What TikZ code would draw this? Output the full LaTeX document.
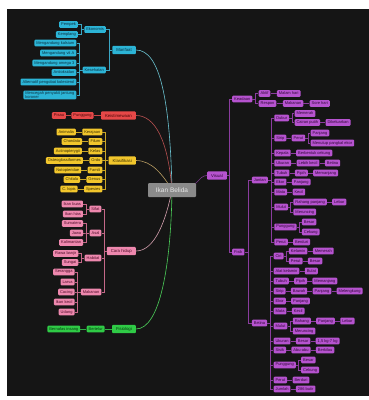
\documentclass[tikz,border=0pt]{standalone}
\usepackage{fontspec}
\setmainfont{Liberation Sans}
\usepackage{xcolor}
\usetikzlibrary{positioning}

\definecolor{bgdark}{HTML}{151515}
\definecolor{rootfill}{HTML}{8A8A8A}
\definecolor{roottext}{HTML}{E6E6E6}
\definecolor{cyanfill}{HTML}{2CB4D6}
\definecolor{cyantext}{HTML}{0A3344}
\definecolor{cyanlink}{HTML}{3BA6C4}
\definecolor{cyancurve}{HTML}{6CC4D2}
\definecolor{redfill}{HTML}{E64848}
\definecolor{redtext}{HTML}{4A0808}
\definecolor{redlink}{HTML}{C84646}
\definecolor{redcurve}{HTML}{B85050}
\definecolor{yellowfill}{HTML}{F2C62C}
\definecolor{yellowtext}{HTML}{3D3000}
\definecolor{yellowlink}{HTML}{C9A628}
\definecolor{yellowcurve}{HTML}{B89C62}
\definecolor{pinkfill}{HTML}{EE88AE}
\definecolor{pinktext}{HTML}{4E0C28}
\definecolor{pinklink}{HTML}{C46888}
\definecolor{pinkcurve}{HTML}{D4A0AE}
\definecolor{greenfill}{HTML}{2FCB46}
\definecolor{greentext}{HTML}{063A10}
\definecolor{greenlink}{HTML}{2FB044}
\definecolor{greencurve}{HTML}{4CD05A}
\definecolor{purplefill}{HTML}{B653CF}
\definecolor{purpletext}{HTML}{300838}
\definecolor{purplelink}{HTML}{8A3C9E}
\definecolor{purplecurve}{HTML}{7A3A8C}

\begin{document}
\begin{tikzpicture}[
    x=1pt, y=-1pt,
    leaf/.style={
        rectangle,
        rounded corners=1pt,
        inner xsep=2pt,
        inner ysep=0.6pt,
        minimum height=6.6pt,
        font=\fontsize{4}{4.6}\selectfont
    },
    mainnode/.style={
        leaf,
        inner xsep=4pt,
        minimum height=8.4pt,
        font=\fontsize{4.3}{5}\selectfont
    },
    rootnode/.style={
        rectangle,
        rounded corners=1pt,
        fill=rootfill,
        text=roottext,
        minimum width=48pt,
        minimum height=14pt,
        font=\fontsize{6.5}{7}\selectfont
    },
    cyanbox/.style={leaf, fill=cyanfill, text=cyantext},
    cyanmain/.style={mainnode, fill=cyanfill, text=cyantext},
    redbox/.style={leaf, fill=redfill, text=redtext},
    redmain/.style={mainnode, fill=redfill, text=redtext},
    yellowbox/.style={leaf, fill=yellowfill, text=yellowtext},
    yellowmain/.style={mainnode, fill=yellowfill, text=yellowtext},
    pinkbox/.style={leaf, fill=pinkfill, text=pinktext},
    pinkmain/.style={mainnode, fill=pinkfill, text=pinktext},
    greenbox/.style={leaf, fill=greenfill, text=greentext},
    greenmain/.style={mainnode, fill=greenfill, text=greentext},
    purplebox/.style={leaf, fill=purplefill, text=purpletext},
    purplemain/.style={mainnode, fill=purplefill, text=purpletext},
    cyanline/.style={line width=0.5pt, cyanlink},
    redline/.style={line width=0.5pt, redlink},
    yellowline/.style={line width=0.5pt, yellowlink},
    pinkline/.style={line width=0.5pt, pinklink},
    greenline/.style={line width=0.5pt, greenlink},
    purpleline/.style={line width=0.5pt, purplelink},
    curve/.style={line width=0.6pt}
]

\useasboundingbox (0,0) rectangle (369,400);
\fill[white] (0,0) rectangle (369,400);
\fill[bgdark] (7,9) rectangle (369,396);

% Main branches
\node[cyanmain, anchor=east] (manfaat) at (136,50) {Manfaat};
\node[redmain, anchor=east] (keistimewaan) at (136,115.5) {Keistimewaan};
\node[yellowmain, anchor=east] (klasifikasi) at (136,160.5) {Klasifikasi};
\node[pinkmain, anchor=east] (carahidup) at (136,251) {Cara hidup};
\node[greenmain, anchor=east] (fisiologi) at (136,329) {Fisiologi};
\node[purplemain, anchor=west] (visual) at (207,175.5) {Visual};

% Manfaat
\node[cyanbox, left=6pt of manfaat, yshift=20.5pt] (ekonomis) {Ekonomis};
\node[cyanbox, left=6pt of manfaat, yshift=-20pt] (kesehatan) {Kesehatan};
\node[cyanbox, left=6pt of ekonomis, yshift=5pt] (pempek) {Pempek};
\node[cyanbox, left=6pt of ekonomis, yshift=-5pt] (kemplang) {Kemplang};
\node[cyanbox, left=6pt of kesehatan, yshift=27pt] (kalsium) {Mengandung kalsium};
\node[cyanbox, left=6pt of kesehatan, yshift=17pt] (vitamina) {Mengandung vit A};
\node[cyanbox, left=6pt of kesehatan, yshift=7pt] (omega) {Mengandung omega 3};
\node[cyanbox, left=6pt of kesehatan, yshift=-2.5pt] (antioksidan) {Antioksidan};
\node[cyanbox, left=6pt of kesehatan, yshift=-12pt] (kolesterol) {Alternatif pengobat kolesterol};
\node[cyanbox, left=6pt of kesehatan, yshift=-25pt, align=left] (jantung) {Mencegah penyakit jantung\\koroner};

\foreach \c in {ekonomis,kesehatan}
    \draw[cyanline] (manfaat.west) -- ++(-3,0) |- (\c.east);
\foreach \c in {pempek,kemplang}
    \draw[cyanline] (ekonomis.west) -- ++(-3,0) |- (\c.east);
\foreach \c in {kalsium,vitamina,omega,antioksidan,kolesterol,jantung}
    \draw[cyanline] (kesehatan.west) -- ++(-3,0) |- (\c.east);

% Keistimewaan
\node[redbox, left=7pt of keistimewaan] (punggungr) {Punggung};
\node[redbox, left=5pt of punggungr] (pisau) {Pisau};
\draw[redline] (keistimewaan) -- (punggungr) -- (pisau);

% Klasifikasi
\node[yellowbox, left=6pt of klasifikasi, yshift=28.5pt] (kerajaan) {Kerajaan};
\node[yellowbox, left=6pt of klasifikasi, yshift=19pt] (filum) {Filum};
\node[yellowbox, left=6pt of klasifikasi, yshift=9.5pt] (kelas) {Kelas};
\node[yellowbox, left=6pt of klasifikasi] (ordo) {Ordo};
\node[yellowbox, left=6pt of klasifikasi, yshift=-9.5pt] (famili) {Famili};
\node[yellowbox, left=6pt of klasifikasi, yshift=-19pt] (genus) {Genus};
\node[yellowbox, left=6pt of klasifikasi, yshift=-28.5pt] (spesies) {Spesies};
\node[yellowbox, left=6pt of kerajaan] (animalia) {Animalia};
\node[yellowbox, left=6pt of filum] (chordata) {Chordata};
\node[yellowbox, left=6pt of kelas] (actino) {Actinopterygii};
\node[yellowbox, left=6pt of ordo] (osteo) {Osteoglossiformes};
\node[yellowbox, left=6pt of famili] (noto) {Notopteridae};
\node[yellowbox, left=6pt of genus] (chitala) {Chitala};
\node[yellowbox, left=6pt of spesies] (lopis) {C. lopis};

\foreach \c in {kerajaan,filum,kelas,ordo,famili,genus,spesies}
    \draw[yellowline] (klasifikasi.west) -- ++(-3,0) |- (\c.east);
\foreach \a/\b in {kerajaan/animalia,filum/chordata,kelas/actino,ordo/osteo,famili/noto,genus/chitala,spesies/lopis}
    \draw[yellowline] (\a) -- (\b);

% Cara hidup
\node[pinkbox, left=5pt of carahidup, yshift=42pt] (sifat) {Sifat};
\node[pinkbox, left=5pt of carahidup, yshift=18pt] (asal) {Asal};
\node[pinkbox, left=5pt of carahidup, yshift=-7pt] (habitat) {Habitat};
\node[pinkbox, left=5pt of carahidup, yshift=-41pt] (makanan) {Makanan};
\node[pinkbox, left=6pt of sifat, yshift=5pt] (buas) {Ikan buas};
\node[pinkbox, left=6pt of sifat, yshift=-5pt] (hias) {Ikan hias};
\node[pinkbox, left=6pt of asal, yshift=9.5pt] (sumatera) {Sumatera};
\node[pinkbox, left=6pt of asal] (jawa) {Jawa};
\node[pinkbox, left=6pt of asal, yshift=-9.5pt] (kalimantan) {Kalimantan};
\node[pinkbox, left=6pt of habitat, yshift=4.5pt] (rawa) {Rawa banjir};
\node[pinkbox, left=6pt of habitat, yshift=-4.5pt] (sungai) {Sungai};
\node[pinkbox, left=6pt of makanan, yshift=20pt] (serangga) {Serangga};
\node[pinkbox, left=6pt of makanan, yshift=10pt] (larva) {Larva};
\node[pinkbox, left=6pt of makanan] (cacing) {Cacing};
\node[pinkbox, left=6pt of makanan, yshift=-10pt] (ikankecil) {Ikan kecil};
\node[pinkbox, left=6pt of makanan, yshift=-20pt] (udang) {Udang};

\foreach \c in {sifat,asal,habitat,makanan}
    \draw[pinkline] (carahidup.west) -- ++(-2.5,0) |- (\c.east);
\foreach \c in {buas,hias}
    \draw[pinkline] (sifat.west) -- ++(-3,0) |- (\c.east);
\foreach \c in {sumatera,jawa,kalimantan}
    \draw[pinkline] (asal.west) -- ++(-3,0) |- (\c.east);
\foreach \c in {rawa,sungai}
    \draw[pinkline] (habitat.west) -- ++(-3,0) |- (\c.east);
\foreach \c in {serangga,larva,cacing,ikankecil,udang}
    \draw[pinkline] (makanan.west) -- ++(-3,0) |- (\c.east);

% Fisiologi
\node[greenbox, left=7pt of fisiologi] (bertelur) {Bertelur};
\node[greenbox, left=6pt of bertelur] (bernafas) {Bernafas insang};
\draw[greenline] (fisiologi) -- (bertelur) -- (bernafas);

% Visual
\node[purplebox, right=5pt of visual, yshift=76.5pt] (keadaan) {Keadaan};
\node[purplebox, right=5pt of visual, yshift=-76.5pt] (fisik) {Fisik};
\node[purplebox, right=6pt of keadaan, yshift=5.5pt] (aktif) {Aktif};
\node[purplebox, right=6pt of keadaan, yshift=-4.5pt] (respon) {Respon};
\node[purplebox, right=6pt of aktif] (malam) {Malam hari};
\node[purplebox, right=6pt of respon] (makanank) {Makanan};
\node[purplebox, right=6pt of makanank] (sore) {Sore hari};
\node[purplebox, right=7pt of fisik, yshift=72pt] (jantan) {Jantan};
\node[purplebox, right=7pt of fisik, yshift=-71pt] (betina) {Betina};

\foreach \c in {keadaan,fisik}
    \draw[purpleline] (visual.east) -- ++(2.5,0) |- (\c.west);
\foreach \c in {aktif,respon}
    \draw[purpleline] (keadaan.east) -- ++(3,0) |- (\c.west);
\foreach \c in {jantan,betina}
    \draw[purpleline] (fisik.east) -- ++(3.5,0) |- (\c.west);
\draw[purpleline] (aktif) -- (malam);
\draw[purpleline] (respon) -- (makanank) -- (sore);

% Jantan
\node[purplebox, right=6pt of jantan, yshift=62pt] (dubur) {Dubur};
\node[purplebox, right=6pt of jantan, yshift=42pt] (siripj) {Sirip};
\node[purplebox, right=6pt of jantan, yshift=27pt] (kepala) {Kepala};
\node[purplebox, right=6pt of jantan, yshift=17pt] (ukuranj) {Ukuran};
\node[purplebox, right=6pt of jantan, yshift=7pt] (tubuhj) {Tubuh};
\node[purplebox, right=6pt of jantan, yshift=-2pt] (ekorj) {Ekor};
\node[purplebox, right=6pt of jantan, yshift=-12pt] (mataj) {Mata};
\node[purplebox, right=6pt of jantan, yshift=-27pt] (mulutj) {Mulut};
\node[purplebox, right=6pt of jantan, yshift=-47pt] (punggungj) {Punggung};
\node[purplebox, right=6pt of jantan, yshift=-62pt] (perutj) {Perut};

\node[purplebox, right=5pt of dubur, yshift=4.5pt] (memerahj) {Memerah};
\node[purplebox, right=5pt of dubur, yshift=-4.5pt] (cairan) {Cairan putih};
\node[purplebox, right=5pt of cairan] (keluar) {Dikeluarkan};
\node[purplebox, right=5pt of siripj] (siripperut) {Perut};
\node[purplebox, right=5pt of siripperut, yshift=5pt] (panjangs) {Panjang};
\node[purplebox, right=5pt of siripperut, yshift=-5pt] (menutup) {Menutup pangkal ekor};
\node[purplebox, right=5pt of kepala] (cekungk) {Berbentuk cekung};
\node[purplebox, right=5pt of ukuranj] (kecilu) {Lebih kecil};
\node[purplebox, right=5pt of kecilu] (betinau) {Betina};
\node[purplebox, right=5pt of tubuhj] (pipihj) {Pipih};
\node[purplebox, right=5pt of pipihj] (memanjangj) {Memanjang};
\node[purplebox, right=5pt of ekorj] (panjangej) {Panjang};
\node[purplebox, right=5pt of mataj] (kecilmj) {Kecil};
\node[purplebox, right=5pt of mulutj, yshift=5pt] (rahangj) {Rahang panjang};
\node[purplebox, right=5pt of rahangj] (lebarj) {Lebar};
\node[purplebox, right=5pt of mulutj, yshift=-5pt] (runcingj) {Meruncing};
\node[purplebox, right=5pt of punggungj, yshift=5pt] (besarpj) {Besar};
\node[purplebox, right=5pt of punggungj, yshift=-5pt] (cekungpj) {Cekung};
\node[purplebox, right=5pt of perutj] (durij) {Berduri};

\foreach \c in {dubur,siripj,kepala,ukuranj,tubuhj,ekorj,mataj,mulutj,punggungj,perutj}
    \draw[purpleline] (jantan.east) -- ++(3,0) |- (\c.west);
\foreach \c in {memerahj,cairan}
    \draw[purpleline] (dubur.east) -- ++(2.5,0) |- (\c.west);
\foreach \c in {panjangs,menutup}
    \draw[purpleline] (siripperut.east) -- ++(2.5,0) |- (\c.west);
\foreach \c in {rahangj,runcingj}
    \draw[purpleline] (mulutj.east) -- ++(2.5,0) |- (\c.west);
\foreach \c in {besarpj,cekungpj}
    \draw[purpleline] (punggungj.east) -- ++(2.5,0) |- (\c.west);
\draw[purpleline] (cairan) -- (keluar);
\draw[purpleline] (siripj) -- (siripperut);
\draw[purpleline] (kepala) -- (cekungk);
\draw[purpleline] (ukuranj) -- (kecilu) -- (betinau);
\draw[purpleline] (tubuhj) -- (pipihj) -- (memanjangj);
\draw[purpleline] (ekorj) -- (panjangej);
\draw[purpleline] (mataj) -- (kecilmj);
\draw[purpleline] (rahangj) -- (lebarj);
\draw[purpleline] (perutj) -- (durij);

% Betina
\node[purplebox, right=6pt of betina, yshift=67pt] (ciri) {Ciri};
\node[purplebox, right=6pt of betina, yshift=52pt] (alatb) {Alat kelamin};
\node[purplebox, right=6pt of betina, yshift=42pt] (tubuhb) {Tubuh};
\node[purplebox, right=6pt of betina, yshift=32pt] (siripb) {Sirip};
\node[purplebox, right=6pt of betina, yshift=22pt] (ekorb) {Ekor};
\node[purplebox, right=6pt of betina, yshift=12pt] (matab) {Mata};
\node[purplebox, right=6pt of betina, yshift=-3pt] (mulutb) {Mulut};
\node[purplebox, right=6pt of betina, yshift=-18pt] (ukuranb) {Ukuran};
\node[purplebox, right=6pt of betina, yshift=-27pt] (sisik) {Sisik};
\node[purplebox, right=6pt of betina, yshift=-42pt] (punggungb) {Punggung};
\node[purplebox, right=6pt of betina, yshift=-57pt] (perutbd) {Perut};
\node[purplebox, right=6pt of betina, yshift=-66pt] (jumlah) {Jumlah};

\node[purplebox, right=5pt of ciri, yshift=5pt] (kelamin) {Kelamin};
\node[purplebox, right=5pt of kelamin] (memerahb) {Memerah};
\node[purplebox, right=5pt of ciri, yshift=-5pt] (perutb) {Perut};
\node[purplebox, right=5pt of perutb] (besarb) {Besar};
\node[purplebox, right=5pt of alatb] (bulat) {Bulat};
\node[purplebox, right=5pt of tubuhb] (pipihb) {Pipih};
\node[purplebox, right=5pt of pipihb] (memanjangb) {Memanjang};
\node[purplebox, right=5pt of siripb] (bawah) {Bawah};
\node[purplebox, right=5pt of bawah] (panjangsb) {Panjang};
\node[purplebox, right=5pt of panjangsb] (melengkung) {Melengkung};
\node[purplebox, right=5pt of ekorb] (panjangeb) {Panjang};
\node[purplebox, right=5pt of matab] (kecilmb) {Kecil};
\node[purplebox, right=5pt of mulutb, yshift=5pt] (rahangb) {Rahang};
\node[purplebox, right=5pt of rahangb] (panjangrb) {Panjang};
\node[purplebox, right=5pt of panjangrb] (lebarb) {Lebar};
\node[purplebox, right=5pt of mulutb, yshift=-5pt] (runcingb) {Meruncing};
\node[purplebox, right=5pt of ukuranb] (besarub) {Besar};
\node[purplebox, right=5pt of besarub] (berat) {1,5 kg-7 kg};
\node[purplebox, right=5pt of sisik] (abu) {Abu-abu};
\node[purplebox, right=5pt of abu] (kilau) {Berkilau};
\node[purplebox, right=5pt of punggungb, yshift=5pt] (besarpb) {Besar};
\node[purplebox, right=5pt of punggungb, yshift=-5pt] (cekungpb) {Cekung};
\node[purplebox, right=5pt of perutbd] (durib) {Berduri};
\node[purplebox, right=5pt of jumlah] (butir) {286 butir};

\foreach \c in {ciri,alatb,tubuhb,siripb,ekorb,matab,mulutb,ukuranb,sisik,punggungb,perutbd,jumlah}
    \draw[purpleline] (betina.east) -- ++(3,0) |- (\c.west);
\foreach \c in {kelamin,perutb}
    \draw[purpleline] (ciri.east) -- ++(2.5,0) |- (\c.west);
\foreach \c in {rahangb,runcingb}
    \draw[purpleline] (mulutb.east) -- ++(2.5,0) |- (\c.west);
\foreach \c in {besarpb,cekungpb}
    \draw[purpleline] (punggungb.east) -- ++(2.5,0) |- (\c.west);
\draw[purpleline] (kelamin) -- (memerahb);
\draw[purpleline] (perutb) -- (besarb);
\draw[purpleline] (alatb) -- (bulat);
\draw[purpleline] (tubuhb) -- (pipihb) -- (memanjangb);
\draw[purpleline] (siripb) -- (bawah) -- (panjangsb) -- (melengkung);
\draw[purpleline] (ekorb) -- (panjangeb);
\draw[purpleline] (matab) -- (kecilmb);
\draw[purpleline] (rahangb) -- (panjangrb) -- (lebarb);
\draw[purpleline] (ukuranb) -- (besarub) -- (berat);
\draw[purpleline] (sisik) -- (abu) -- (kilau);
\draw[purpleline] (perutbd) -- (durib);
\draw[purpleline] (jumlah) -- (butir);

% Curves from the root
\coordinate (root) at (172,190);
\draw[curve, cyancurve] (root) .. controls (170,100) and (160,50) .. (manfaat.east);
\draw[curve, redcurve] (root) .. controls (168,140) and (155,115.5) .. (keistimewaan.east);
\draw[curve, yellowcurve] (root) .. controls (163,175) and (152,160.5) .. (klasifikasi.east);
\draw[curve, pinkcurve] (root) .. controls (166,220) and (155,251) .. (carahidup.east);
\draw[curve, greencurve] (root) .. controls (171,265) and (160,329) .. (fisiologi.east);
\draw[curve, purplecurve] (root) .. controls (200,190) and (197,175.5) .. (visual.west);

% Root
\node[rootnode] (ikan) at (root) {Ikan Belida};

\end{tikzpicture}
\end{document}
